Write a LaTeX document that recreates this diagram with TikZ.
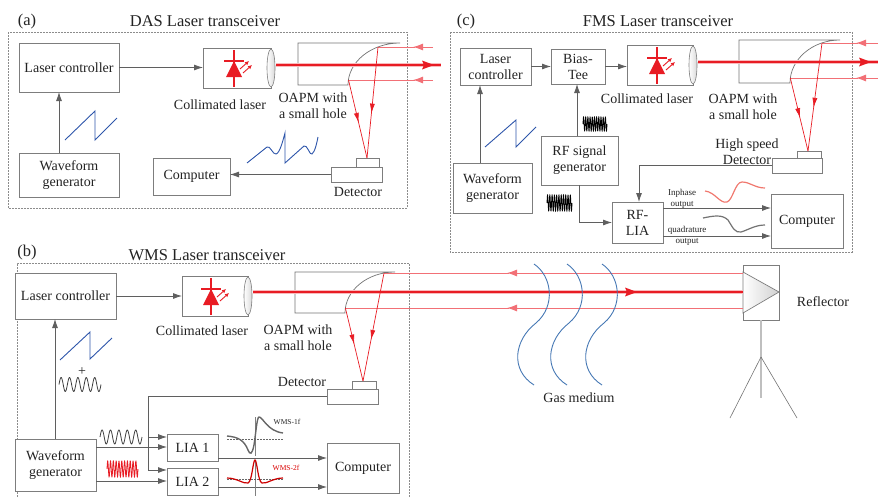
\documentclass[tikz,border=0pt]{standalone}
\usepackage{fontspec}
\setmainfont{Liberation Serif}
\usetikzlibrary{arrows.meta,calc,shapes.geometric}
\definecolor{boxgray}{RGB}{125,125,125}
\definecolor{arrgray}{RGB}{95,95,95}
\definecolor{beamred}{RGB}{232,28,36}
\definecolor{retpink}{RGB}{242,112,118}
\definecolor{sawblue}{RGB}{45,85,170}
\definecolor{gasblue}{RGB}{70,120,180}
\definecolor{txt}{RGB}{35,35,35}
\definecolor{salmon}{RGB}{240,120,110}

\tikzset{
  ldiode/.pic={
    \draw[beamred, line width=1.3pt] (0,-18) -- (0,19);
    \draw[beamred, line width=1.5pt] (-10,-7) -- (10,-7);
    \fill[beamred] (0,-7) -- (-8,9) -- (8,9) -- cycle;
    \draw[beamred, line width=0.9pt, -{Latex[length=4pt,width=4pt]}] (6,1) -- (15,-7);
    \draw[beamred, line width=0.9pt, -{Latex[length=4pt,width=4pt]}] (9,5) -- (18,-3);
  }
}

\begin{document}
\begin{tikzpicture}[x=1pt,y=-1pt,
  every node/.style={text=txt, font=\rmfamily\fontsize{14}{16}\selectfont, inner sep=0pt, outer sep=0pt},
  box/.style={draw=boxgray, line width=0.8pt, fill=white, align=center, anchor=north west},
  lensst/.style={ellipse, draw=boxgray, line width=0.6pt, minimum width=8pt, minimum height=38pt, left color=white, right color=black!15},
  conn/.style={draw=arrgray, line width=0.8pt, -{Latex[length=9pt,width=6pt]}},
  panel/.style={draw=black!45, line width=0.6pt, dash pattern=on 1.6pt off 1.4pt},
  title/.style={font=\rmfamily\fontsize{16.5}{18}\selectfont},
  small/.style={font=\rmfamily\fontsize{9}{11}\selectfont, align=center},
  tiny/.style={font=\rmfamily\fontsize{7.5}{9}\selectfont},
  beam/.style={draw=beamred, line width=1.7pt, preaction={draw=beamred!30, line width=3.6pt}},
  beamhead/.style={fill=beamred, draw=none},
  ret/.style={draw=retpink, line width=1pt},
  rettip/.style={-{Latex[length=10pt,width=7pt]}},
  refl/.style={draw=beamred, line width=0.7pt},
  refltip/.style={-{Latex[length=10pt,width=5pt]}},
  mirror/.style={draw=black!55, line width=0.7pt},
  hole/.style={draw=black!60, line width=1pt},
  saw/.style={draw=sawblue, line width=0.9pt},
  gas/.style={draw=gasblue, line width=0.9pt},
  wave/.style={draw=black!75, line width=0.8pt},
]
\useasboundingbox (0,0) rectangle (878,498);

% ================= (a) DAS =================
\draw[panel] (8,32) rectangle (407,208);
\node[title] (alab) at (27,22) {(a)};
\node[title] (atitle) at (205,21) {DAS Laser transceiver};

\node[box, minimum width=100pt, minimum height=49pt] (alc) at (19,43) {Laser controller};
\node[box, minimum width=68pt, minimum height=40pt] (acl) at (203,48) {};
\node[box, minimum width=100pt, minimum height=44pt] (awg) at (19,153) {Waveform\\generator};
\node[box, minimum width=77pt, minimum height=37pt] (acomp) at (153,158) {Computer};
\node[box, minimum width=51pt, minimum height=15pt] (adet) at (331,167) {};
\node[box, minimum width=23pt, minimum height=9pt] (adett) at (356,158) {};
\node[lensst] (alens) at (acl.east) {};
\pic at (234,68) {ldiode};

\draw[conn] (alc.east) -- (alc.east -| acl.west);
\draw[conn] ([xshift=40pt]awg.north west) -- ([xshift=40pt]alc.south west);
\draw[conn] (adet.west) -- (adet.west -| acomp.east);

\node (acltxt) at (220,105) {Collimated laser};
\node[align=center] (aoapm) at (313,106) {OAPM with\\a small hole};
\node (adettxt) at (358,192) {Detector};

% off-axis parabolic mirror
\draw[mirror] (400,43) -- (298,43) -- (298,85) -- (348,85) .. controls (348,61.8) and (371.3,43) .. (400,43);
\draw[hole] (298,66.5) -- (353,66.5);
\coordinate (abs) at (276,65);
\coordinate (am1) at (378,47);
\coordinate (am2) at (348.5,80);
\coordinate (adf) at (367,158);
\draw[beam] (abs) -- (441,65);
\fill[beamhead] (434,65) -- (422,60.5) -- (424,65) -- (422,69.5) -- cycle;
\draw[ret, rettip] (433,47) -- (413,47);
\draw[ret] (415,47) -- (am1);
\draw[ret, rettip] (433,80) -- (413,80);
\draw[ret] (415,80) -- (am2);
\draw[refl, refltip] (am1) -- ($(am1)!0.6!(adf)$);
\draw[refl] ($(am1)!0.55!(adf)$) -- (adf);
\draw[refl, refltip] (am2) -- ($(am2)!0.55!(adf)$);
\draw[refl] ($(am2)!0.5!(adf)$) -- (adf);

\draw[saw] (65,140) -- (95,111) -- (95,140) -- (117,118);
\draw[saw] (247,163) -- (267,147) .. controls (270,145) and (273,155) .. (276,154)
  .. controls (280,153) and (283,140) .. (285,133) -- (285,163) -- (304,146)
  .. controls (307,144) and (310,156) .. (312,154) .. controls (315,152) and (317,142) .. (318,137);

% ================= (c) FMS =================
\draw[panel] (450,32) rectangle (852,252);
\node[title] (clab) at (466,22) {(c)};
\node[title] (ctitle) at (658,21) {FMS Laser transceiver};

\node[box, minimum width=71pt, minimum height=37pt] (clc) at (460,48) {Laser\\controller};
\node[box, minimum width=54pt, minimum height=35pt] (cbt) at (551,49) {Bias-\\Tee};
\node[box, minimum width=66pt, minimum height=40pt] (ccl) at (627,45) {};
\node[box, minimum width=79pt, minimum height=50pt] (cwg) at (453,163) {Waveform\\generator};
\node[box, minimum width=77pt, minimum height=49pt] (crf) at (541,136) {RF signal\\generator};
\node[box, minimum width=51pt, minimum height=41pt] (clia) at (612,202) {RF-\\LIA};
\node[box, minimum width=72pt, minimum height=54pt] (ccomp) at (771,194) {Computer};
\node[box, minimum width=50pt, minimum height=15pt] (cdet) at (772,158) {};
\node[box, minimum width=24pt, minimum height=7pt] (cdett) at (797,151) {};
\node[lensst] (clens) at (ccl.east) {};
\pic at (657,65) {ldiode};

\draw[conn] (clc.east) -- (clc.east -| cbt.west);
\draw[conn] (cbt.east) -- (cbt.east -| ccl.west);
\draw[conn] ([xshift=27pt]cwg.north west) -- ([xshift=27pt]cwg.north west |- clc.south);
\draw[conn] ([xshift=36pt]crf.north west) -- ([xshift=36pt]crf.north west |- cbt.south);
\draw[conn] ([xshift=38pt]crf.south west) |- (clia.west);
\draw[conn] (cdet.west) -| ([xshift=27pt]clia.north west);
\draw[conn] ([yshift=-6pt]clia.north east) -- ([yshift=-6pt]clia.north east -| ccomp.west);
\draw[conn] ([yshift=7pt]clia.south east) -- ([yshift=7pt]clia.south east -| ccomp.west);

\node (ccltxt) at (647,99) {Collimated laser};
\node[align=center] (coapm) at (743,106.5) {OAPM with\\a small hole};
\node[align=center] (cdettxt) at (747,151.5) {High speed\\Detector};
\node[small] (cinph) at (682,198.5) {Inphase\\output};
\node[small] (cquad) at (687,235.5) {quadrature\\output};

\draw[mirror] (840,40) -- (739,40) -- (739,83) -- (790,83) .. controls (790,59.3) and (812.4,40) .. (840,40);
\draw[hole] (739,63.5) -- (795,63.5);
\coordinate (cbs) at (698,62);
\coordinate (cm1) at (822,43);
\coordinate (cm2) at (790.3,78);
\coordinate (cdf) at (808,151);
\draw[beam] (cbs) -- (878,62);
\fill[beamhead] (871,62) -- (859,57.5) -- (861,62) -- (859,66.5) -- cycle;
\draw[ret, rettip] (878,43) -- (856,43);
\draw[ret] (858,43) -- (cm1);
\draw[ret, rettip] (878,78) -- (856,78);
\draw[ret] (858,78) -- (cm2);
\draw[refl, refltip] (cm1) -- ($(cm1)!0.6!(cdf)$);
\draw[refl] ($(cm1)!0.55!(cdf)$) -- (cdf);
\draw[refl, refltip] (cm2) -- ($(cm2)!0.55!(cdf)$);
\draw[refl] ($(cm2)!0.5!(cdf)$) -- (cdf);

\draw[saw] (485,147) -- (516,120) -- (516,147) -- (536,127);
\draw[black, line width=0.8pt] plot[domain=0:24, samples=300, variable=\t] ({583+\t}, {124-7*sin(\t/24*11*360)});
\draw[black, line width=0.8pt] plot[domain=0:25, samples=300, variable=\t] ({547+\t}, {203-8*sin(\t/25*11*360)});
\draw[salmon, line width=1.2pt] (705,191) .. controls (715,192) and (720,204) .. (727,202)
  .. controls (733,200) and (735,182) .. (742,182) .. controls (750,182) and (755,188) .. (765,188);
\draw[black!55, line width=1.2pt] (703,218) .. controls (713,216) and (722,214) .. (728,220)
  .. controls (733,228) and (735,233) .. (741,232) .. controls (748,230) and (755,225) .. (765,225);

% ================= (b) WMS =================
\draw[panel] (17,497) -- (17,263) -- (409,263) -- (409,497);
\node[title] (blab) at (27,253) {(b)};
\node[title] (btitle) at (207,255) {WMS Laser transceiver};

\node[box, minimum width=101pt, minimum height=46pt] (blc) at (15,273) {Laser controller};
\node[box, minimum width=66pt, minimum height=40pt] (bcl) at (182,276) {};
\node[box, minimum width=81pt, minimum height=52pt] (bwg) at (15,439) {Waveform\\generator};
\node[box, minimum width=51pt, minimum height=27pt] (blia1) at (167,434) {LIA 1};
\node[box, minimum width=51pt, minimum height=27pt] (blia2) at (167,468) {LIA 2};
\node[box, minimum width=72pt, minimum height=50pt] (bcomp) at (327,443) {Computer};
\node[box, minimum width=51pt, minimum height=15pt] (bdet) at (327,389) {};
\node[box, minimum width=24pt, minimum height=8pt] (bdett) at (352,381) {};
\node[lensst] (blens) at (bcl.east) {};
\pic at (211,296) {ldiode};

\draw[conn] (blc.east) -- (blc.east -| bcl.west);
\draw[conn] ([xshift=40pt]bwg.north west) -- ([xshift=40pt]bwg.north west |- blc.south);
\coordinate (bsplit1) at (148,437);
\coordinate (bsplit2) at (148,470);
\draw[conn] (bdet.west) -| (bsplit2) -- (bsplit2 -| blia2.west);
\draw[conn] (bsplit1) -- (bsplit1 -| blia1.west);
\draw[conn] ([yshift=-8pt]bwg.north east) -- ([yshift=-8pt]bwg.north east -| blia1.west);
\draw[conn] ([yshift=10pt]bwg.south east) -- ([yshift=10pt]bwg.south east -| blia2.west);
\draw[conn] ([yshift=3pt]blia1.south east) -- ([yshift=3pt]blia1.south east -| bcomp.west);
\draw[conn] ([yshift=8pt]blia2.south east) -- ([yshift=8pt]blia2.south east -| bcomp.west);

\node (bcltxt) at (202,331) {Collimated laser};
\node[align=center] (boapm) at (298,337.5) {OAPM with\\a small hole};
\node (bdettxt) at (302,382) {Detector};

\draw[mirror] (395,272) -- (295,272) -- (295,313) -- (345,313) .. controls (345,290.4) and (367.4,272) .. (395,272);
\draw[hole] (295,293.5) -- (351,293.5);

\draw[saw] (60,360) -- (90,332) -- (90,359) -- (112,338);
\node (bplus) at (82,372) {+};
\draw[wave] plot[domain=0:42, samples=200, variable=\t] ({59+\t}, {384.5-7*sin(\t/42*5*360)});
\draw[wave] plot[domain=0:42, samples=200, variable=\t] ({100+\t}, {437-7*sin(\t/42*5*360)});
\draw[beamred, line width=0.8pt] plot[domain=0:31, samples=300, variable=\t] ({107+\t}, {469-8*sin(\t/31*11*360)});

% lock-in outputs
\draw[black!50, line width=0.6pt] (255,417) -- (255,456);
\draw[black!60, line width=0.6pt, dash pattern=on 1.5pt off 1.5pt] (227,439) -- (283,439);
\draw[black!60, line width=1.4pt] (227,436) .. controls (238,437) and (244,440) .. (248,450)
  .. controls (250,455) and (252,455) .. (254,445) .. controls (256,432) and (257,417) .. (259,417)
  .. controls (263,417) and (267,431) .. (283,433);
\node[tiny] (b1f) at (287,422) {WMS-1f};
\draw[black!50, line width=0.6pt] (255,460) -- (255,496);
\draw[black!60, line width=0.6pt, dash pattern=on 1.5pt off 1.5pt] (227,479) -- (283,479);
\draw[red!80!black, line width=1.2pt] (227,478) .. controls (237,478) and (243,484) .. (248,483)
  .. controls (252,482) and (253,460) .. (255,460) .. controls (257,460) and (258,482) .. (262,483)
  .. controls (267,484) and (273,478) .. (283,478);
\node[tiny, text=red!85!black] (b2f) at (286,468) {WMS-2f};

% ================= free-space path =================
\node[draw=boxgray, line width=0.8pt, minimum width=36pt, minimum height=55pt, anchor=north west] (rfl) at (743,265) {};
\draw[boxgray, line width=0.7pt, left color=white, right color=black!18] (743,272) -- (779,292) -- (743,313) -- cycle;
\node (rfltxt) at (823,302) {Reflector};
\draw[black!25, line width=2.5pt] (rfl.south) -- (761,398);
\coordinate (tripod) at (761,357);
\draw[black!55, line width=0.6pt] (tripod) -- (730,418);
\draw[black!55, line width=0.6pt] (tripod) -- (797,418);

\coordinate (bbs) at (253,292);
\coordinate (bm1) at (384,273);
\coordinate (bm2) at (345.4,308);
\coordinate (bdf) at (363,381);
\draw[beam] (bbs) -- (743,292);
\fill[beamhead] (637,292) -- (625,287.5) -- (627,292) -- (625,296.5) -- cycle;
\draw[ret, rettip] (743,273) -- (507,273);
\draw[ret] (509,273) -- (bm1);
\draw[ret, rettip] (743,308) -- (507,308);
\draw[ret] (509,308) -- (bm2);
\draw[refl, refltip] (bm1) -- ($(bm1)!0.62!(bdf)$);
\draw[refl] ($(bm1)!0.57!(bdf)$) -- (bdf);
\draw[refl, refltip] (bm2) -- ($(bm2)!0.5!(bdf)$);
\draw[refl] ($(bm2)!0.45!(bdf)$) -- (bdf);

\foreach \dx in {0,33,68} {
  \draw[gas] (534+\dx,264) .. controls (552+\dx,276) and (556+\dx,306) .. (536+\dx,323)
    .. controls (514+\dx,340) and (510+\dx,370) .. (534+\dx,385);
}
\node (gastxt) at (579,398) {Gas medium};
\end{tikzpicture}
\end{document}
